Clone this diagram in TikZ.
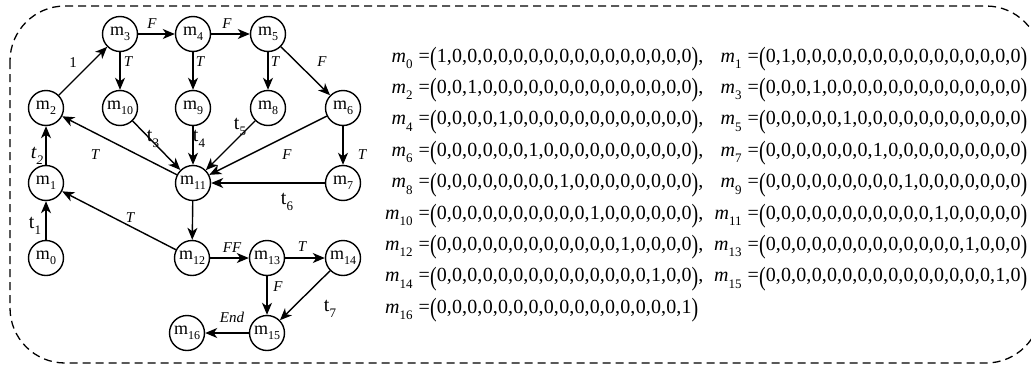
\documentclass[tikz,border=0pt]{standalone}
\usepackage{fontspec}
\setmainfont{Liberation Serif}
\usepackage{graphicx}
\usetikzlibrary{arrows.meta}

% one-hot marking vector with 17 places, 1 in place #1
\newcount\hotidx
\newcommand\onehot[1]{\hotidx=0 \loop\ifnum\hotidx=#1\relax 1\else 0\fi\ifnum\hotidx<16 ,\kern0.3pt\fi\advance\hotidx by 1 \ifnum\hotidx<17 \repeat}
\newcommand\lpar{\raisebox{-0.17em}{\scalebox{1}[1.32]{(}}}
\newcommand\rpar{\raisebox{-0.17em}{\scalebox{1}[1.32]{)}}}
\newcommand\mlab[1]{\textit{m}\raisebox{-0.32em}{\fontsize{13}{13}\selectfont #1}\hspace{0.3em}=\hspace{0.45em}}
\newcommand\ml[1]{m\raisebox{-0.25em}{\fontsize{12}{12}\selectfont #1}}
\newcommand\tl[1]{t\raisebox{-0.3em}{\fontsize{13}{13}\selectfont #1}}

\begin{document}
\begin{tikzpicture}[x=1pt,y=-1pt,
  st/.style={circle,draw,line width=1.4pt,minimum size=35pt,inner sep=0pt,font=\fontsize{18}{18}\selectfont},
  arr/.style={line width=1.4pt,-{Stealth[length=12pt,width=10pt,inset=3.5pt]}},
  lbl/.style={font=\fontsize{15}{15}\selectfont\itshape,inner sep=0pt},
  tlab/.style={font=\fontsize{20}{20}\selectfont,inner sep=0pt},
  vec/.style={font=\fontsize{20}{20}\selectfont,inner sep=0pt}]

\useasboundingbox (0,0) rectangle (1031,367);
\draw[line width=1.3pt, dash pattern=on 8pt off 5pt, rounded corners=55pt] (10,6) rectangle (1041,363);

% states
\node[st] (m0)  at (46,258)  {\ml{0}};
\node[st] (m1)  at (46,183)  {\ml{1}};
\node[st] (m2)  at (46,108)  {\ml{2}};
\node[st] (m3)  at (120,34)  {\ml{3}};
\node[st] (m4)  at (193,34)  {\ml{4}};
\node[st] (m5)  at (268,34)  {\ml{5}};
\node[st] (m10) at (120,108) {\ml{10}};
\node[st] (m9)  at (193,108) {\ml{9}};
\node[st] (m8)  at (268,108) {\ml{8}};
\node[st] (m6)  at (343,108) {\ml{6}};
\node[st] (m11) at (193,183) {\ml{11}};
\node[st] (m7)  at (343,183) {\ml{7}};
\node[st] (m12) at (192,258) {\ml{12}};
\node[st] (m13) at (267,258) {\ml{13}};
\node[st] (m14) at (343,258) {\ml{14}};
\node[st] (m15) at (267,333) {\ml{15}};
\node[st] (m16) at (187,333) {\ml{16}};

% transitions
\draw[arr] (m0) -- (m1);
\draw[arr] (m1) -- (m2);
\draw[arr] (m2) -- (m3);
\draw[arr] (m3) -- (m4);
\draw[arr] (m4) -- (m5);
\draw[arr] (m3) -- (m10);
\draw[arr] (m4) -- (m9);
\draw[arr] (m5) -- (m8);
\draw[arr] (m5) -- (m6);
\draw[arr] (m6) -- (m7);
\draw[arr] (m10) -- (m11);
\draw[arr] (m9) -- (m11);
\draw[arr] (m8) -- (m11);
\draw[arr] (m6) -- (m11);
\draw[arr] (m7) -- (m11);
\draw[arr] (m11) -- (m2);
\draw[arr] (m11) -- (m12);
\draw[arr] (m12) -- (m1);
\draw[arr] (m12) -- (m13);
\draw[arr] (m13) -- (m14);
\draw[arr] (m13) -- (m15);
\draw[arr] (m14) -- (m15);
\draw[arr] (m15) -- (m16);

% transition labels
\node[font=\fontsize{15}{15}\selectfont,inner sep=0pt] (e1) at (73,63) {1};
\node[lbl] (e2) at (152,24) {F};
\node[lbl] (e3) at (227,24) {F};
\node[lbl] (e4) at (128,62) {T};
\node[lbl] (e5) at (200,62) {T};
\node[lbl] (e6) at (275,62) {T};
\node[lbl] (e7) at (322,62) {F};
\node[lbl] (e8) at (362,155) {T};
\node[lbl] (e9) at (287,155) {F};
\node[lbl] (e10) at (95,155) {T};
\node[lbl] (e11) at (130,218) {T};
\node[lbl] (e12) at (232,248) {FF};
\node[lbl] (e13) at (302,247) {T};
\node[lbl] (e14) at (278,287) {F};
\node[lbl] (e15) at (232,317) {End};
\node[tlab] (t1) at (35,226) {\tl{1}};
\node[tlab] (t2) at (37,156) {\textit{t}\raisebox{-0.3em}{\fontsize{13}{13}\selectfont\itshape 2}};
\node[tlab] (t3) at (153,139) {\tl{3}};
\node[tlab] (t4) at (199,139) {\tl{4}};
\node[tlab] (t5) at (240,127) {\tl{5}};
\node[tlab] (t6) at (287,202) {\tl{6}};
\node[tlab] (t7) at (330,309) {\tl{7}};

% marking vectors, two per line
\foreach \k in {0,...,7} {
  \pgfmathtruncatemacro\a{2*\k}
  \pgfmathtruncatemacro\b{2*\k+1}
  \pgfmathsetmacro\yb{62+31.4*\k}
  \node[vec,anchor=base east] (la\k) at (430,\yb) {\mlab{\a}};
  \node[vec,anchor=base west] (va\k) at (430,\yb) {\lpar\onehot{\a}\rpar,};
  \node[vec,anchor=base east] (lb\k) at (759,\yb) {\mlab{\b}};
  \node[vec,anchor=base west] (vb\k) at (759,\yb) {\lpar\onehot{\b}\rpar};
}
\node[vec,anchor=base east] (la8) at (430,313.2) {\mlab{16}};
\node[vec,anchor=base west] (va8) at (430,313.2) {\lpar\onehot{16}\rpar};
\end{tikzpicture}
\end{document}
